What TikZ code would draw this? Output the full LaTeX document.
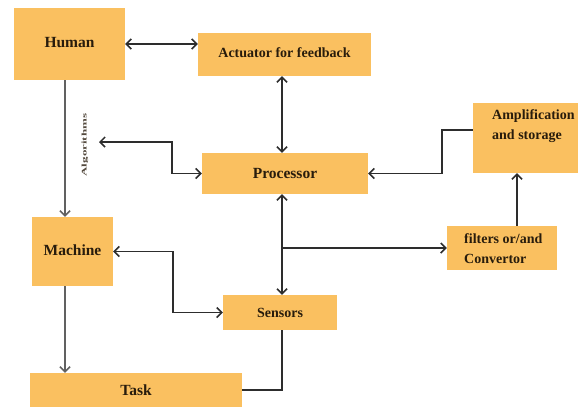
\documentclass[tikz,border=0pt]{standalone}
\usepackage{fontspec}
\setmainfont{Liberation Serif}[BoldFont={Liberation Serif Bold}]
\usetikzlibrary{arrows.meta}
\definecolor{boxfill}{RGB}{250,192,96}
\definecolor{txt}{RGB}{40,28,12}
\definecolor{ln}{RGB}{45,45,45}
\begin{document}
\begin{tikzpicture}[x=1pt,y=-1pt,
  box/.style={fill=boxfill,draw=none,inner sep=0pt,text=txt,font=\rmfamily\bfseries\fontsize{15.5}{18}\selectfont},
  sbox/.style={box,font=\rmfamily\bfseries\fontsize{14}{20}\selectfont},
  conn/.style={draw=ln,line width=1.7pt},
  tip/.style={-{Straight Barb[length=5pt,width=10pt,line width=1.5pt]}},
  dtip/.style={{Straight Barb[length=5pt,width=10pt,line width=1.5pt]}-{Straight Barb[length=5pt,width=10pt,line width=1.5pt]}}]
\useasboundingbox (0,0) rectangle (580,410);
% boxes
\node[box,minimum width=111pt,minimum height=72pt] (human) at (69.5,44) {\raisebox{3pt}{Human}};
\node[sbox,minimum width=173pt,minimum height=43pt] (act) at (284.5,54.5) {\raisebox{3pt}{Actuator for feedback}};
\node[box,minimum width=166pt,minimum height=41pt] (proc) at (285,173.5) {Processor};
\node[box,minimum width=105pt,minimum height=70pt] (amp) at (525.5,138) {};
\node[sbox,anchor=north west,align=left] (amptxt) at (492,109) {Amplification\\and storage};
\node[box,minimum width=110pt,minimum height=44pt] (filt) at (502,248) {};
\node[sbox,anchor=west,align=left] (filttxt) at (464,249) {filters or/and\\Convertor};
\node[box,minimum width=81pt,minimum height=69pt] (mach) at (72.5,251.5) {\raisebox{2pt}{Machine}};
\node[sbox,minimum width=114pt,minimum height=35pt] (sens) at (280,312.5) {Sensors};
\node[box,minimum width=212pt,minimum height=34pt] (task) at (136,390) {Task};
% helper coordinates
\coordinate (vx) at (65,0);
\coordinate (vx2) at (282,0);
\coordinate (vx3) at (517,0);
\coordinate (alg) at (99,142);
\coordinate (algc) at (172,142);
\coordinate (ms) at (173,312.5);
\coordinate (ay) at (442,130);
\node[rotate=90,text=txt!80,font=\rmfamily\bfseries\fontsize{13}{14}\selectfont,inner sep=0pt] (algtxt) at (85,145) {\scalebox{1}[0.55]{Algorithms}};
% connectors
\draw[conn,dtip] (human.east) -- (human.east -| act.west);
\draw[conn,dtip] (act.south -| vx2) -- (proc.north -| vx2);
\draw[conn,dtip] (alg) -- (algc) |- (proc.west);
\draw[conn,draw=ln!75,tip] (human.south -| vx) -- (mach.north -| vx);
\draw[conn,draw=ln!75,tip] (mach.south -| vx) -- (task.north -| vx);
\draw[conn,dtip] (mach.east) -| (ms) -- (sens.west);
\draw[conn,dtip] (proc.south -| vx2) -- (sens.north -| vx2);
\draw[conn,tip] (vx2 |- filt.west) -- (filt.west);
\draw[conn,tip] (filt.north -| vx3) -- (amp.south -| vx3);
\draw[conn,tip] (amp.west |- ay) -- (ay) |- (proc.east);
\draw[conn] (task.east) -| (sens.south -| vx2);
\end{tikzpicture}
\end{document}
